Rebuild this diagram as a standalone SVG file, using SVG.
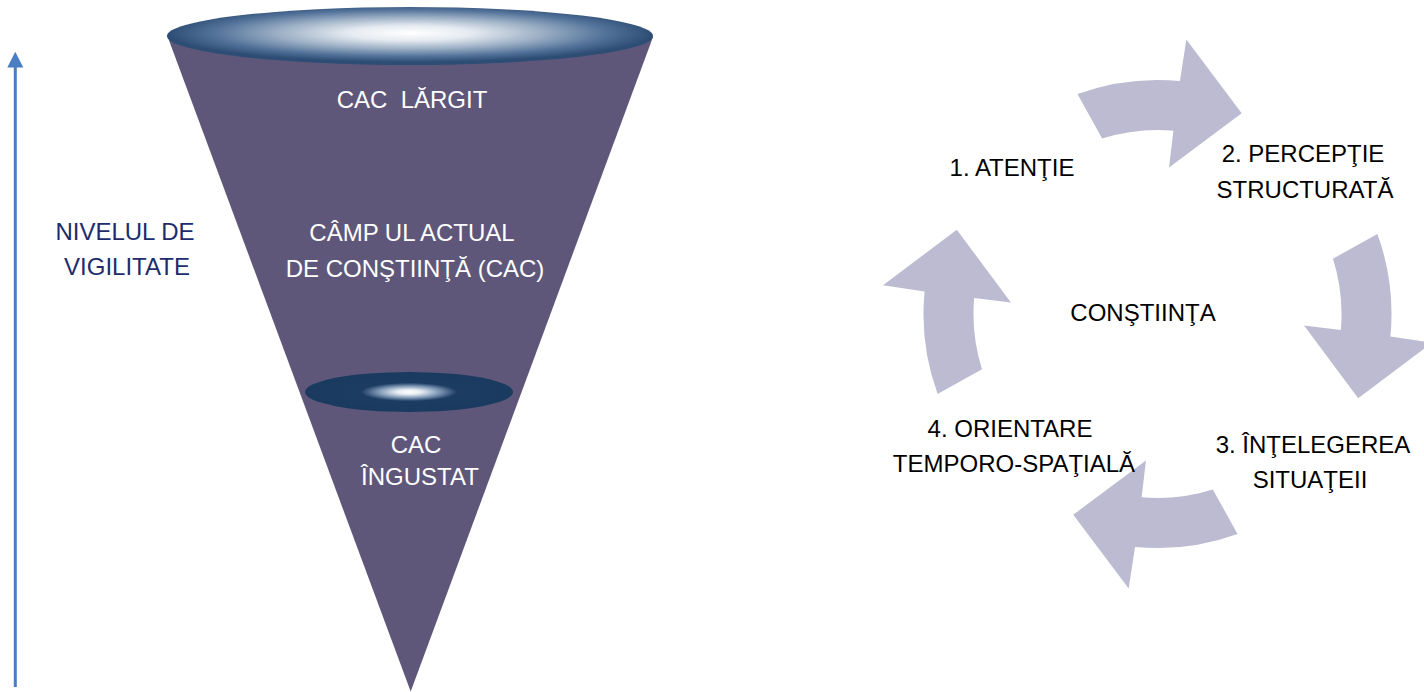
<svg xmlns="http://www.w3.org/2000/svg" width="1424" height="692" viewBox="0 0 1424 692">
  <style>
    .t { font-family: "Liberation Sans", Arial, sans-serif; font-size: 24px; text-anchor: middle; }
    .w { fill: #ffffff; }
    .k { fill: #000000; }
    .n { fill: #1c2c6c; }
    .cyc { fill: #bdbbd1; }
  </style>
  <defs>
    <radialGradient id="gTop" cx="0.5" cy="0.45" r="0.5">
      <stop offset="0" stop-color="#ffffff"/>
      <stop offset="0.25" stop-color="#e6ebf1"/>
      <stop offset="0.55" stop-color="#9aaec4"/>
      <stop offset="0.8" stop-color="#54739a"/>
      <stop offset="1" stop-color="#2e4d74"/>
    </radialGradient>
    <radialGradient id="gSmall" cx="0.5" cy="0.5" r="0.5">
      <stop offset="0" stop-color="#ffffff"/>
      <stop offset="0.12" stop-color="#e6ecf2"/>
      <stop offset="0.3" stop-color="#7a94b2"/>
      <stop offset="0.46" stop-color="#1d3c62"/>
      <stop offset="1" stop-color="#1b3a60"/>
    </radialGradient>
    <path id="cArrow" d="M -80.03 -219.89 A 234 234 0 0 1 22.43 -232.92 L 28.85 -274.49 L 84.2 -200.7 L 11.53 -146.55 L 15.9 -183.35 A 184 184 0 0 0 -55.33 -175.48 Z"/>
  </defs>

  <g id="vigilance-axis">
    <line x1="15.3" y1="687" x2="15.3" y2="66" stroke="#4a7ec2" stroke-width="3"/>
    <polygon points="7.3,67.5 23.3,67.5 15.3,51.7" fill="#4a7ec2"/>
    <text class="t n" x="125" y="240">NIVELUL DE</text>
    <text class="t n" x="127" y="275">VIGILITATE</text>
  </g>

  <g id="cone">
    <polygon points="167,35 653,37 410.7,691.5" fill="#5e577a"/>
    <ellipse cx="410" cy="36" rx="243" ry="29" fill="url(#gTop)"/>
    <text class="t w" x="412" y="108" font-size="23" style="white-space:pre">CAC  LĂRGIT</text>
    <text class="t w" x="412" y="241">CÂMP UL ACTUAL</text>
    <text class="t w" x="415" y="277">DE CONŞTIINŢĂ (CAC)</text>
  </g>

  <g id="cac-ingustat">
    <ellipse cx="409" cy="392" rx="104" ry="20" fill="url(#gSmall)"/>
    <text class="t w" x="416" y="453" font-size="23">CAC</text>
    <text class="t w" x="420" y="485" font-size="23">ÎNGUSTAT</text>
  </g>

  <g id="connectors">
    <use href="#cArrow" class="cyc" transform="translate(1157.5,314) rotate(0)"/>
    <use href="#cArrow" class="cyc" transform="translate(1157.5,314) rotate(90)"/>
    <use href="#cArrow" class="cyc" transform="translate(1157.5,314) rotate(180)"/>
    <use href="#cArrow" class="cyc" transform="translate(1157.5,314) rotate(270)"/>
  </g>

  <g id="center-constiinta">
    <text class="t k" x="1143" y="321">CONŞTIINŢA</text>
  </g>
  <g id="step-1">
    <text class="t k" x="1012" y="176">1. ATENŢIE</text>
  </g>
  <g id="step-2">
    <text class="t k" x="1303" y="162">2. PERCEPŢIE</text>
    <text class="t k" x="1305" y="198">STRUCTURATĂ</text>
  </g>
  <g id="step-3">
    <text class="t k" x="1313" y="453">3. ÎNŢELEGEREA</text>
    <text class="t k" x="1310" y="488">SITUAŢEII</text>
  </g>
  <g id="step-4">
    <text class="t k" x="1010" y="437">4. ORIENTARE</text>
    <text class="t k" x="1014" y="472">TEMPORO-SPAŢIALĂ</text>
  </g>
</svg>
